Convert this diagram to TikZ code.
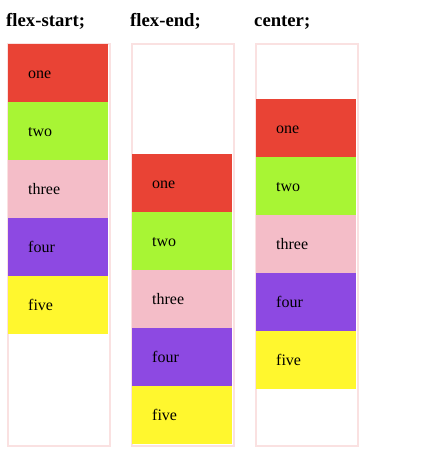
\documentclass[tikz,border=0pt]{standalone}
\usepackage{fontspec}
\setmainfont{Liberation Serif}
\usepackage{xcolor}
\usetikzlibrary{positioning}

\definecolor{itemred}{RGB}{233,67,53}
\definecolor{itemgreen}{RGB}{168,245,52}
\definecolor{itempink}{RGB}{244,189,200}
\definecolor{itempurple}{RGB}{141,73,226}
\definecolor{itemyellow}{RGB}{255,247,46}
\definecolor{boxborder}{RGB}{250,225,225}

\begin{document}
\begin{tikzpicture}[x=1pt, y=-1pt,
    heading/.style={anchor=base west, inner sep=0pt, font=\bfseries\fontsize{18.7}{22}\selectfont},
    container/.style={draw=boxborder, line width=2pt, minimum width=102pt, minimum height=402pt, inner sep=0pt, anchor=north west},
    item/.style={anchor=north west, minimum width=100pt, minimum height=58pt, text width=60pt, inner xsep=20pt, inner ysep=0pt,
        align=left, text height=10pt, text depth=0pt, font=\fontsize{16}{19}\selectfont}]
    \useasboundingbox (0,0) rectangle (429,452);

    % Tiêu đề
    \node[heading] (hstart) at (6,26.7) {flex-start;};
    \node[heading] (hend) at (130,26.7) {flex-end;};
    \node[heading] (hcenter) at (254,26.7) {center;};

    % Khung chứa
    \node[container] (boxstart) at (7,43) {};
    \node[container] (boxend) at (131,43) {};
    \node[container] (boxcenter) at (255,43) {};

    % Các phần tử
    \foreach \col/\x/\y in {s/8/44, e/132/154, c/256/99}
        \foreach \name/\clr [count=\i] in {one/itemred, two/itemgreen, three/itempink, four/itempurple, five/itemyellow}
            \node[item, fill=\clr] (\col\i) at (\x, {\y+58*(\i-1)}) {\name};
\end{tikzpicture}
\end{document}
